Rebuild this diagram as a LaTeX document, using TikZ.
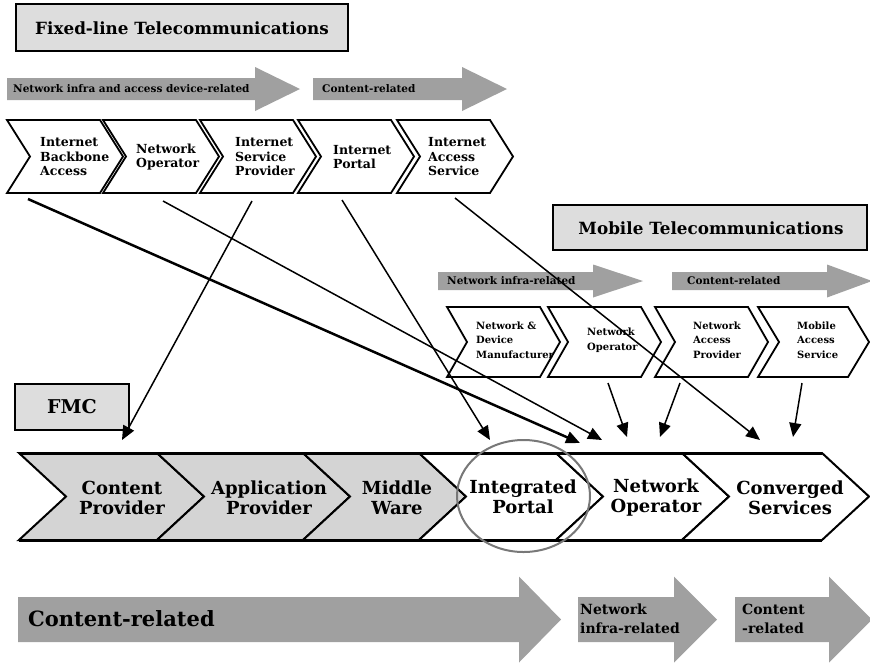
\documentclass[tikz,border=0pt]{standalone}
\usepackage{fontspec}
\setmainfont{DejaVu Serif}
\usetikzlibrary{arrows.meta}
\definecolor{arrowgray}{RGB}{160,160,160}
\definecolor{boxgray}{RGB}{221,221,221}
\definecolor{chevgray}{RGB}{212,212,212}
\definecolor{ringgray}{RGB}{120,120,120}
% style, x, ytop, ybot, w, d
\newcommand\mychev[6]{%
  \draw[#1] (#2,#3) -- (#2+#5,#3) -- (#2+#5+#6,{(#3+#4)/2}) -- (#2+#5,#4) -- (#2,#4) -- (#2+#6,{(#3+#4)/2}) -- cycle;}
% xleft, xhead, xtip, ycenter, body half, head half
\newcommand\garrow[6]{%
  \fill[arrowgray] (#1,#4-#5) -- (#2,#4-#5) -- (#2,#4-#6) -- (#3,#4) -- (#2,#4+#6) -- (#2,#4+#5) -- (#1,#4+#5) -- cycle;}
\tikzset{
  titlebox/.style={draw, line width=2.5pt, fill=boxgray, inner sep=0pt},
  topchev/.style={draw, line width=1.8pt, fill=white},
  botchev/.style={draw, line width=2pt},
  toptext/.style={align=left, inner sep=0pt, font=\bfseries\fontsize{12.5}{14.5}\selectfont},
  mobtext/.style={align=left, inner sep=0pt, font=\bfseries\fontsize{10}{14.5}\selectfont},
  bottext/.style={align=center, inner sep=0pt, font=\bfseries\fontsize{18}{20}\selectfont},
  arrtext/.style={anchor=west, inner sep=0pt, font=\bfseries\fontsize{10.5}{12}\selectfont},
  bigtext/.style={anchor=west, align=left, inner sep=0pt, font=\bfseries\fontsize{14}{19}\selectfont},
  conn/.style={line width=1.5pt, -{Triangle[length=14pt,width=12pt]}},
  thickconn/.style={line width=2.5pt, -{Triangle[length=14pt,width=12pt]}},
}
\begin{document}
\begin{tikzpicture}[x=1pt,y=-1pt,line join=miter]
\useasboundingbox[fill=white] (0,0) rectangle (870,665);

% ---------- Fixed-line ----------
\draw[titlebox] (16,4) rectangle (348,51);
\node[inner sep=0pt, font=\bfseries\fontsize{16.8}{20}\selectfont] (fixtitle) at (182,28) {Fixed-line Telecommunications};

\garrow{7}{255}{300}{89}{11}{22}
\garrow{313}{462}{507}{89}{11}{22}
\node[arrtext] (fa1) at (13,89) {Network infra and access device-related};
\node[arrtext] (fa2) at (322,89) {Content-related};

\mychev{topchev}{7}{120}{193}{93}{23}
\mychev{topchev}{103}{120}{193}{93}{23}
\mychev{topchev}{200}{120}{193}{93}{23}
\mychev{topchev}{298}{120}{193}{93}{23}
\mychev{topchev}{397}{120}{193}{93}{23}
\node[toptext, anchor=west] (f1) at (40,157) {Internet\\Backbone\\Access};
\node[toptext, anchor=west] (f2) at (136,157) {Network\\Operator};
\node[toptext, anchor=west] (f3) at (235,157) {Internet\\Service\\Provider};
\node[toptext, anchor=west] (f4) at (333,157) {Internet\\Portal};
\node[toptext, anchor=west] (f5) at (428,157) {Internet\\Access\\Service};

% ---------- Mobile ----------
\draw[titlebox] (553,205) rectangle (867,250);
\node[inner sep=0pt, font=\bfseries\fontsize{16.8}{20}\selectfont] (mobtitle) at (711,228) {Mobile Telecommunications};

\garrow{438}{593}{643}{281}{9}{16.5}
\garrow{672}{827}{872}{281}{9}{16.5}
\node[arrtext] (ma1) at (447,281) {Network infra-related};
\node[arrtext] (ma2) at (687,281) {Content-related};

\mychev{topchev}{447}{307}{377}{93}{20}
\mychev{topchev}{548}{307}{377}{93}{20}
\mychev{topchev}{655}{307}{377}{93}{20}
\mychev{topchev}{758}{307}{377}{90}{21}
\node[mobtext, anchor=west] (m1) at (476,340) {Network \&\\Device\\Manufacturer};
\node[mobtext, anchor=west] (m2) at (587,340) {Network\\Operator};
\node[mobtext, anchor=west] (m3) at (693,340) {Network\\Access\\Provider};
\node[mobtext, anchor=west] (m4) at (797,340) {Mobile\\Access\\Service};

% ---------- FMC ----------
\draw[titlebox] (15,384) rectangle (129,430);
\node[inner sep=0pt, font=\bfseries\fontsize{19}{22}\selectfont] (fmc) at (72,407) {FMC};

\mychev{botchev, fill=chevgray}{19}{453}{540}{138}{47}
\mychev{botchev, fill=chevgray}{157}{453}{540}{146}{47}
\mychev{botchev, fill=chevgray}{303}{453}{540}{116}{47}
\mychev{botchev, fill=white}{419}{453}{540}{137}{47}
\mychev{botchev, fill=white}{556}{453}{540}{126}{47}
\mychev{botchev, fill=white}{682}{453}{540}{140}{47}
\draw[line width=3pt] (19,453) -- (822,453);
\draw[line width=3pt] (19,540) -- (822,540);
\node[bottext] (b1) at (122,498) {Content\\Provider};
\node[bottext] (b2) at (269,498) {Application\\Provider};
\node[bottext] (b3) at (397,498) {Middle\\Ware};
\node[bottext] (b4) at (523,497) {Integrated\\Portal};
\node[bottext] (b5) at (656,498) {Network\\Operator};
\node[bottext] (b6) at (790,498) {Converged\\Services};
\draw[ringgray, line width=2pt] (523.5,496) ellipse [x radius=66.5, y radius=56];

% ---------- bottom arrows ----------
\garrow{18}{519}{561}{619.5}{22.5}{43}
\garrow{578}{674}{717}{619.5}{22.5}{43}
\garrow{735}{829}{872}{619.5}{22.5}{43}
\node[inner sep=0pt, anchor=west, font=\bfseries\fontsize{21}{24}\selectfont] (ba1) at (28,619) {Content-related};
\node[bigtext] (ba2) at (580,619) {Network\\infra-related};
\node[bigtext] (ba3) at (742,619) {Content\\-related};

% ---------- connectors ----------
\coordinate (sA) at (28,199);  \coordinate (eA) at (580,443);
\coordinate (sB) at (163,201); \coordinate (eB) at (602,440);
\coordinate (sC) at (252,201); \coordinate (eC) at (122,440);
\coordinate (sD) at (342,200); \coordinate (eD) at (490,440);
\coordinate (sE) at (455,198); \coordinate (eE) at (760,440);
\coordinate (sF) at (608,383); \coordinate (eF) at (627,437);
\coordinate (sG) at (680,383); \coordinate (eG) at (660,437);
\coordinate (sH) at (802,383); \coordinate (eH) at (793,437);
\draw[thickconn] (sA) -- (eA);
\draw[conn] (sB) -- (eB);
\draw[conn] (sC) -- (eC);
\draw[conn] (sD) -- (eD);
\draw[conn] (sE) -- (eE);
\draw[conn] (sF) -- (eF);
\draw[conn] (sG) -- (eG);
\draw[conn] (sH) -- (eH);
\end{tikzpicture}
\end{document}
